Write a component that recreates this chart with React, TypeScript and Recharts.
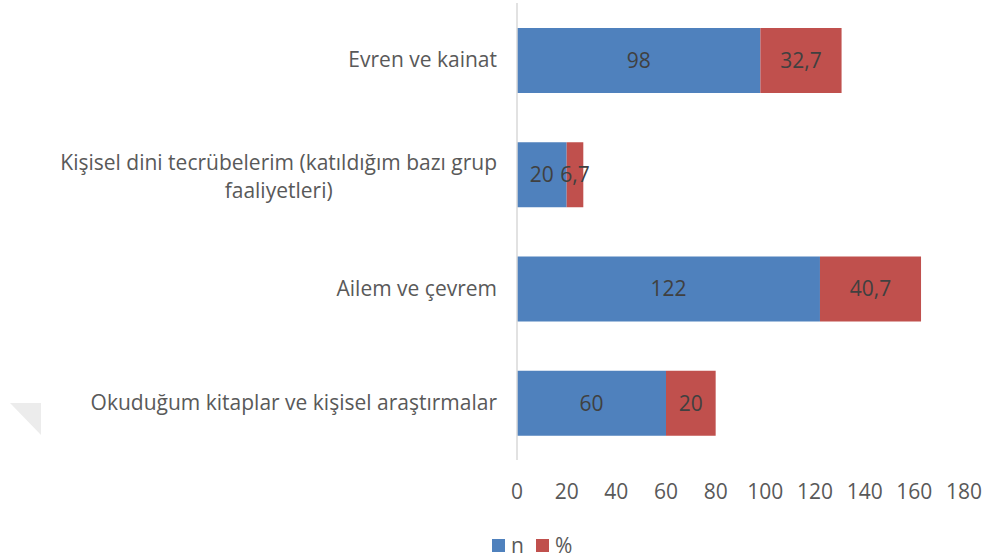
import React from "react";
import { BarChart, Bar, XAxis, YAxis, Legend, LabelList } from "recharts";

if (typeof document !== "undefined") {
  document.body.style.margin = "0";
}

const categories = [
  "Evren ve kainat",
  "Kişisel dini tecrübelerim (katıldığım bazı grup faaliyetleri)",
  "Ailem ve çevrem",
  "Okuduğum kitaplar ve kişisel araştırmalar",
];
const nValues = [98, 20, 122, 60];
const pctValues = [32.7, 6.7, 40.7, 20];
const xTicks = [0, 20, 40, 60, 80, 100, 120, 140, 160, 180];

const data = categories.map((c, i) => ({ name: c, n: nValues[i], pct: pctValues[i] }));

const FONT = "'Open Sans', sans-serif";
const LABEL_SIZE = 21;
const BLUE = "#4F81BD";
const RED = "#C0504D";

let ctx: CanvasRenderingContext2D | null = null;
function measure(text: string): number {
  if (!ctx && typeof document !== "undefined") {
    ctx = document.createElement("canvas").getContext("2d");
  }
  if (!ctx) return text.length * 10.5;
  ctx.font = `${LABEL_SIZE}px ${FONT}`;
  return ctx.measureText(text).width;
}

function wrap(text: string, maxW: number): string[] {
  const words = text.split(" ");
  const lines: string[] = [];
  let cur = "";
  for (const w of words) {
    const t = cur ? cur + " " + w : w;
    if (measure(t) > maxW && cur) {
      lines.push(cur);
      cur = w;
    } else cur = t;
  }
  if (cur) lines.push(cur);
  return lines;
}

const CategoryTick = (props: any) => {
  const { x, y, payload } = props;
  const lines = wrap(String(payload.value), 470);
  if (lines.length === 1) {
    return (
      <text x={x} y={y} dy="0.35em" textAnchor="end" fontSize={LABEL_SIZE} fontFamily={FONT} fill="#595959">
        {lines[0]}
      </text>
    );
  }
  const maxW = Math.max(...lines.map(measure));
  const cx = x - maxW / 2;
  const lh = 28;
  const start = y - ((lines.length - 1) * lh) / 2 + 2;
  return (
    <text textAnchor="middle" fontSize={LABEL_SIZE} fontFamily={FONT} fill="#595959">
      {lines.map((l, i) => (
        <tspan key={i} x={cx} y={start + i * lh} dy="0.35em">
          {l}
        </tspan>
      ))}
    </text>
  );
};

const fmt = (v: any) => String(v).replace(".", ",");

const LegendContent = () => (
  <div
    style={{
      display: "flex",
      alignItems: "center",
      height: 30,
      paddingLeft: 492,
      fontFamily: FONT,
      fontSize: 21,
      color: "#595959",
    }}
  >
    <span style={{ width: 13, height: 13, background: BLUE, display: "inline-block" }} />
    <span style={{ marginLeft: 6, marginRight: 12 }}>n</span>
    <span style={{ width: 13, height: 13, background: RED, display: "inline-block" }} />
    <span style={{ marginLeft: 6 }}>%</span>
  </div>
);

export default function App() {
  return (
    <div style={{ position: "relative", width: 988, height: 560, background: "#fff" }}>
      <svg width={60} height={60} style={{ position: "absolute", left: 0, top: 390 }}>
        <polygon points="10,13 41,13 41,45" fill="#ececec" />
      </svg>
      <BarChart
        width={988}
        height={560}
        data={data}
        layout="vertical"
        margin={{ top: 3, right: 24, bottom: 0, left: 0 }}
      >
        <XAxis
          type="number"
          domain={[0, 180]}
          ticks={xTicks}
          axisLine={false}
          tickLine={false}
          tickMargin={18}
          height={70}
          interval={0}
          tick={{ fontSize: 21, fontFamily: FONT, fill: "#595959" }}
        />
        <YAxis
          type="category"
          dataKey="name"
          width={517}
          tickLine={false}
          tickMargin={14}
          axisLine={{ stroke: "#d9d9d9", strokeWidth: 1.5 }}
          tick={<CategoryTick />}
          interval={0}
        />
        <Legend verticalAlign="bottom" height={30} content={<LegendContent />} />
        <Bar dataKey="n" name="n" stackId="a" fill={BLUE} barSize={65} isAnimationActive={false}>
          <LabelList dataKey="n" position="center" formatter={fmt} fill="#404040" fontSize={21} fontFamily={FONT} />
        </Bar>
        <Bar dataKey="pct" name="%" stackId="a" fill={RED} barSize={65} isAnimationActive={false}>
          <LabelList dataKey="pct" position="center" formatter={fmt} fill="#404040" fontSize={21} fontFamily={FONT} />
        </Bar>
      </BarChart>
    </div>
  );
}
